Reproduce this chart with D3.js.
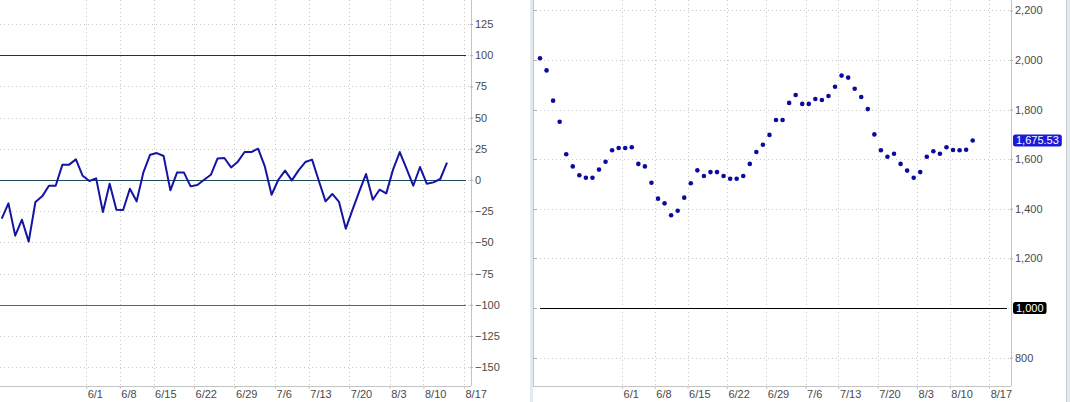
<!DOCTYPE html>
<html>
<head>
<meta charset="utf-8">
<script src="https://cdn.jsdelivr.net/npm/d3@7"></script>
<style>
  body { margin:0; background:#fff; }
  svg text { font-family:"Liberation Sans", Arial, sans-serif; font-size:11px; fill:#4a4a4a; }
</style>
</head>
<body>
<svg id="chart" width="1070" height="402"></svg>
<script>
// oscillator values (left panel) and index values (right panel), one per bar
var oscValues = [-31, -18.7, -44.6, -31.8, -49.4, -17.6, -13.1, -4.6, -4.6, 12.3,
    12.3, 16.5, 3.4, -0.8, 1.3, -25.7, -3, -23.8, -24, -7,
    -17.1, 6.1, 20.3, 21.6, 19.2, -8.3, 6.1, 6.1, -5.1, -4,
    0.2, 4.2, 17.3, 17.6, 10.1, 14.7, 22.4, 22.4, 25.1, 10.9,
    -11.8, 0.2, 7.5, -0.3, 7.7, 14.4, 16.3, -0.6, -17.1, -11.2,
    -17.6, -39, -23.8, -9.1, 4.8, -15.8, -7.8, -10.7, 8.3, 22.4,
    9.1, -4.6, 10.4, -3, -1.9, 0.8, 13.9];
var priceValues = [2007, 1958, 1836, 1751, 1620, 1571, 1535, 1525, 1525, 1558,
    1590, 1636, 1645, 1645, 1648, 1581, 1571, 1505, 1441, 1422,
    1374, 1392, 1445, 1503, 1555, 1532, 1548, 1548, 1532, 1521,
    1521, 1532, 1581, 1629, 1658, 1698, 1758, 1758, 1827, 1859,
    1823, 1823, 1843, 1839, 1855, 1892, 1937, 1929, 1884, 1851,
    1802, 1700, 1636, 1610, 1622, 1581, 1554, 1525, 1548, 1610,
    1632, 1622, 1648, 1637, 1636, 1638, 1675.53];
var lastPrice = 1675.53;

// date ticks: position in bar units and label
var dateTickIdx = [12.5, 17.5, 22.5, 28.5, 34.5, 40.5, 45.5, 51.5, 57.5, 62.5, 68.5];
var dateTickLabels = ["6/1", "6/8", "6/15", "6/22", "6/29", "7/6", "7/13", "7/20", "8/3", "8/10", "8/17"];

var oscTicks = [125, 100, 75, 50, 25, 0, -25, -50, -75, -100, -125, -150];
var oscLevels = [100, 0, -100];
var priceTicks = [2200, 2000, 1800, 1600, 1400, 1200, 1000, 800];
var priceLevel = 1000;

var svg = d3.select("#chart");
var axisY = 386;
var fmt = d3.format(",");

function drawGrid(g, x, y, yTicks, x0, x1) {
    g.selectAll(".hgrid").data(yTicks).enter().append("line")
        .attr("class", "hgrid")
        .attr("x1", x0).attr("x2", x1)
        .attr("y1", function(d){ return Math.round(y(d)) + 0.5; })
        .attr("y2", function(d){ return Math.round(y(d)) + 0.5; })
        .attr("stroke", "#c8c8c8").attr("stroke-dasharray", "1,3");
    g.selectAll(".vgrid").data(dateTickIdx).enter().append("line")
        .attr("class", "vgrid")
        .attr("x1", function(d){ return Math.round(x(d)) + 0.5; })
        .attr("x2", function(d){ return Math.round(x(d)) + 0.5; })
        .attr("y1", 0).attr("y2", axisY)
        .attr("stroke", "#c8c8c8").attr("stroke-dasharray", "1,3");
}

function drawDateAxis(g, x, x0, x1) {
    g.append("line").attr("x1", x0).attr("x2", x1)
        .attr("y1", axisY + 0.5).attr("y2", axisY + 0.5).attr("stroke", "#c4c4c4");
    var ax = d3.axisBottom(x).tickValues(dateTickIdx).tickSize(3)
        .tickFormat(function(d, i){ return dateTickLabels[i]; });
    var a = g.append("g").attr("transform", "translate(0," + axisY + ")").call(ax);
    a.select(".domain").remove();
    a.selectAll("line").attr("stroke", "#c4c4c4");
    a.selectAll("text").attr("text-anchor", "start").attr("dx", "0.1em").attr("dy", "0.5em")
        .style("fill", "#4a4a4a");
}

function drawValueAxis(g, y, ticks, xAxis, skip) {
    g.append("line").attr("x1", xAxis + 0.5).attr("x2", xAxis + 0.5)
        .attr("y1", 0).attr("y2", axisY).attr("stroke", "#c4c4c4");
    var ax = d3.axisRight(y).tickValues(ticks.filter(function(d){ return d !== skip; }))
        .tickSize(3).tickPadding(2).tickFormat(fmt);
    var a = g.append("g").attr("transform", "translate(" + (xAxis - 1) + ",0)").call(ax);
    a.select(".domain").remove();
    a.selectAll("line").attr("stroke", "#b0b0b0");
    a.selectAll("text").style("fill", "#4a4a4a");
}

function valueTag(g, xPos, yPos, text, fill) {
    var tag = g.append("g");
    var box = tag.append("rect");
    var t = tag.append("text").attr("x", xPos + 3).attr("y", yPos).attr("dy", "0.35em")
        .text(text).style("fill", "#fff");
    var w = t.node().getComputedTextLength();
    box.attr("x", xPos).attr("y", yPos - 6).attr("width", w + 6).attr("height", 12)
        .attr("rx", 2.5).attr("fill", fill);
}

// ---------- left panel: oscillator ----------
var left = svg.append("g");
var xL = d3.scaleLinear().domain([0, oscValues.length - 1]).range([1.7, 447]);
var yL = d3.scaleLinear().domain([-150, 125]).range([367.2, 24]);

drawGrid(left, xL, yL, oscTicks, 0, 470);

var levelColors = ["#7a0c0c", "#1d4a55", "#c23a2a"];
left.selectAll(".level").data(oscLevels).enter().append("line")
    .attr("class", "level")
    .attr("x1", 0).attr("x2", 466)
    .attr("y1", function(d){ return Math.round(yL(d)) + 0.5; })
    .attr("y2", function(d){ return Math.round(yL(d)) + 0.5; })
    .attr("stroke", function(d, i){ return levelColors[i]; })
    .attr("stroke-width", 1.2);

left.append("path").datum(oscValues)
    .attr("fill", "none").attr("stroke", "#1414a4").attr("stroke-width", 2)
    .attr("stroke-linejoin", "round")
    .attr("d", d3.line().x(function(d, i){ return xL(i); }).y(function(d){ return yL(d); }));

drawDateAxis(left, xL, 0, 471);
drawValueAxis(left, yL, oscTicks, 471, null);

// ---------- right panel: price dots ----------
var right = svg.append("g");
right.append("rect").attr("x", 530).attr("y", 0).attr("width", 3).attr("height", 402).attr("fill", "#e4e9ed");
right.append("line").attr("x1", 533.5).attr("x2", 533.5).attr("y1", 0).attr("y2", axisY)
    .attr("stroke", "#c4c4c4");
right.append("rect").attr("x", 1066).attr("y", 0).attr("width", 4).attr("height", 402).attr("fill", "#e4e9ed");
right.append("line").attr("x1", 1066.5).attr("x2", 1066.5).attr("y1", 0).attr("y2", 402)
    .attr("stroke", "#c8ced3");

var xR = d3.scaleLinear().domain([0, priceValues.length - 1]).range([540, 972.7]);
var yR = d3.scaleLinear().domain([800, 2200]).range([357.6, 10.4]);

drawGrid(right, xR, yR, priceTicks, 536, 1010);
right.selectAll(".edgeTick").data(priceTicks).enter().append("line")
    .attr("class", "edgeTick")
    .attr("x1", 533).attr("x2", 537)
    .attr("y1", function(d){ return Math.round(yR(d)) + 0.5; })
    .attr("y2", function(d){ return Math.round(yR(d)) + 0.5; })
    .attr("stroke", "#b0b0b0");

right.append("line").attr("x1", 540).attr("x2", 1007)
    .attr("y1", Math.round(yR(priceLevel)) + 0.5).attr("y2", Math.round(yR(priceLevel)) + 0.5)
    .attr("stroke", "#000").attr("stroke-width", 1.2);

right.selectAll(".dot").data(priceValues).enter().append("circle")
    .attr("class", "dot")
    .attr("cx", function(d, i){ return xR(i); })
    .attr("cy", function(d){ return yR(d); })
    .attr("r", 2.3).attr("fill", "#0a0a9c");

drawDateAxis(right, xR, 533, 1011);
drawValueAxis(right, yR, priceTicks, 1011, priceLevel);

valueTag(right, 1013, yR(lastPrice), d3.format(",.2f")(lastPrice), "#1a1ad6");
valueTag(right, 1013, yR(priceLevel), fmt(priceLevel), "#000");
</script>
</body>
</html>
